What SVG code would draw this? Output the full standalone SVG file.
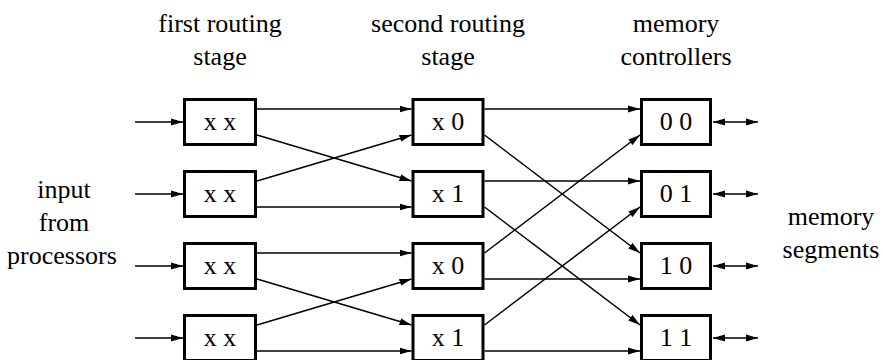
<svg xmlns="http://www.w3.org/2000/svg" width="883" height="360" viewBox="0 0 883 360">
<defs>
<marker id="ah" markerUnits="userSpaceOnUse" markerWidth="12" markerHeight="8" refX="12" refY="4" orient="auto-start-reverse">
<path d="M0,0.5 L12,4 L0,7.5 z" fill="#000"/>
</marker>
<style>
text{font-size:26px;fill:#000;text-anchor:middle}
.box{fill:#fff;stroke:#000;stroke-width:3}
.c line{stroke:#000;stroke-width:1.5;marker-end:url(#ah)}
.c line.bi{marker-start:url(#ah)}
</style>
</defs>
<rect width="883" height="360" fill="#fff"/>
<g id="labels">
<text font-family="Times New Roman" x="220" y="32">first routing</text>
<text font-family="Times New Roman" x="220" y="65">stage</text>
<text font-family="Times New Roman" x="448" y="32">second routing</text>
<text font-family="Times New Roman" x="448" y="65">stage</text>
<text font-family="Times New Roman" x="676" y="32">memory</text>
<text font-family="Times New Roman" x="676" y="65">controllers</text>
<text font-family="Times New Roman" x="64" y="198">input</text>
<text font-family="Times New Roman" x="64" y="231">from</text>
<text font-family="Times New Roman" x="62" y="264">processors</text>
<text font-family="Times New Roman" x="831" y="225">memory</text>
<text font-family="Times New Roman" x="831" y="258">segments</text>
</g>
<g id="connectors" class="c">
<line x1="135" y1="122" x2="183" y2="122"/>
<line x1="135" y1="194" x2="183" y2="194"/>
<line x1="135" y1="266" x2="183" y2="266"/>
<line x1="135" y1="338" x2="183" y2="338"/>
<line x1="257" y1="109" x2="411.5" y2="109"/>
<line x1="257" y1="135" x2="411.5" y2="181"/>
<line x1="257" y1="181" x2="411.5" y2="135"/>
<line x1="257" y1="207" x2="411.5" y2="207"/>
<line x1="257" y1="253" x2="411.5" y2="253"/>
<line x1="257" y1="279" x2="411.5" y2="325"/>
<line x1="257" y1="325" x2="411.5" y2="279"/>
<line x1="257" y1="351" x2="411.5" y2="351"/>
<line x1="484.5" y1="109" x2="640" y2="109"/>
<line x1="484.5" y1="135" x2="640" y2="253"/>
<line x1="484.5" y1="181" x2="640" y2="181"/>
<line x1="484.5" y1="207" x2="640" y2="325"/>
<line x1="484.5" y1="253" x2="640" y2="135"/>
<line x1="484.5" y1="279" x2="640" y2="279"/>
<line x1="484.5" y1="325" x2="640" y2="207"/>
<line x1="484.5" y1="351" x2="640" y2="351"/>
<line class="bi" x1="713" y1="122" x2="758" y2="122"/>
<line class="bi" x1="713" y1="194" x2="758" y2="194"/>
<line class="bi" x1="713" y1="266" x2="758" y2="266"/>
<line class="bi" x1="713" y1="338" x2="758" y2="338"/>
</g>
<g id="s1r0"><rect class="box" x="184.5" y="99.5" width="71" height="45"/><text font-family="Times New Roman" x="220" y="130">x x</text></g>
<g id="s1r1"><rect class="box" x="184.5" y="171.5" width="71" height="45"/><text font-family="Times New Roman" x="220" y="202">x x</text></g>
<g id="s1r2"><rect class="box" x="184.5" y="243.5" width="71" height="45"/><text font-family="Times New Roman" x="220" y="274">x x</text></g>
<g id="s1r3"><rect class="box" x="184.5" y="315.5" width="71" height="45"/><text font-family="Times New Roman" x="220" y="346">x x</text></g>
<g id="s2r0"><rect class="box" x="413" y="99.5" width="70" height="45"/><text font-family="Times New Roman" x="448" y="130">x 0</text></g>
<g id="s2r1"><rect class="box" x="413" y="171.5" width="70" height="45"/><text font-family="Times New Roman" x="448" y="202">x 1</text></g>
<g id="s2r2"><rect class="box" x="413" y="243.5" width="70" height="45"/><text font-family="Times New Roman" x="448" y="274">x 0</text></g>
<g id="s2r3"><rect class="box" x="413" y="315.5" width="70" height="45"/><text font-family="Times New Roman" x="448" y="346">x 1</text></g>
<g id="m00"><rect class="box" x="641.5" y="99.5" width="69" height="45"/><text font-family="Times New Roman" x="676" y="130">0 0</text></g>
<g id="m01"><rect class="box" x="641.5" y="171.5" width="69" height="45"/><text font-family="Times New Roman" x="676" y="202">0 1</text></g>
<g id="m10"><rect class="box" x="641.5" y="243.5" width="69" height="45"/><text font-family="Times New Roman" x="676" y="274">1 0</text></g>
<g id="m11"><rect class="box" x="641.5" y="315.5" width="69" height="45"/><text font-family="Times New Roman" x="676" y="346">1 1</text></g>
</svg>
